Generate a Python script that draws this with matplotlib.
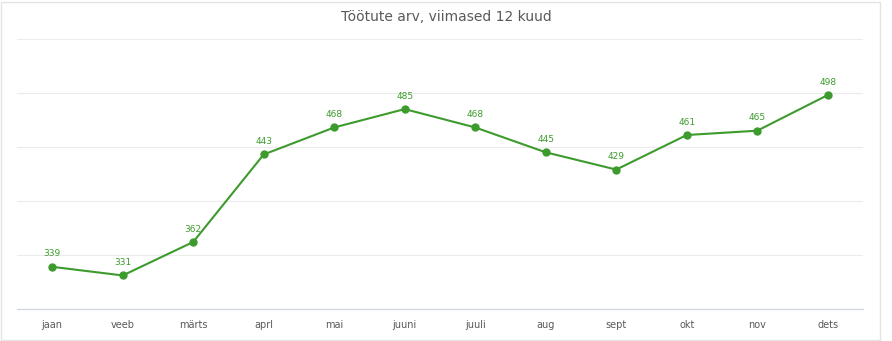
import matplotlib.pyplot as plt
from matplotlib.patches import Rectangle

months = ['jaan', 'veeb', 'märts', 'aprl', 'mai', 'juuni', 'juuli', 'aug', 'sept', 'okt', 'nov', 'dets']
unemployed = [339, 331, 362, 443, 468, 485, 468, 445, 429, 461, 465, 498]

green = '#3d9b2d'
grid_col = '#ececec'

fig = plt.figure(figsize=(8.92, 3.41), dpi=100)
ax = fig.add_axes([0.019, 0.094, 0.9485, 0.792])

x = range(len(months))
ax.plot(x, unemployed, color=green, linewidth=1.5, marker='o', markersize=5, zorder=3)
for i, v in zip(x, unemployed):
    ax.annotate(str(v), (i, v), xytext=(0, 6), textcoords='offset points',
                ha='center', va='bottom', fontsize=6.5, color=green)

ax.set_xlim(-0.5, len(months) - 0.5)
ax.set_ylim(300, 550)
ax.set_yticks(range(300, 551, 50))
ax.yaxis.grid(True, color=grid_col, linewidth=0.8)
ax.set_axisbelow(True)
ax.tick_params(axis='y', left=False, labelleft=False)
ax.set_xticks(list(x))
ax.set_xticklabels(months, fontsize=7, color='#595959')
ax.tick_params(axis='x', length=0, pad=8)
for s in ['top', 'left', 'right']:
    ax.spines[s].set_visible(False)
ax.spines['bottom'].set_color('#d0d7e3')
ax.spines['bottom'].set_linewidth(0.9)

fig.text(0.5, 0.95, 'Töötute arv, viimased 12 kuud', ha='center', va='center',
         fontsize=10, color='#595959')
fig.patches.append(Rectangle((0.001, 0.003), 0.986, 0.992, transform=fig.transFigure,
                             fill=False, edgecolor='#e4e4e4', linewidth=1))

fig.savefig('out.png', dpi=100)
